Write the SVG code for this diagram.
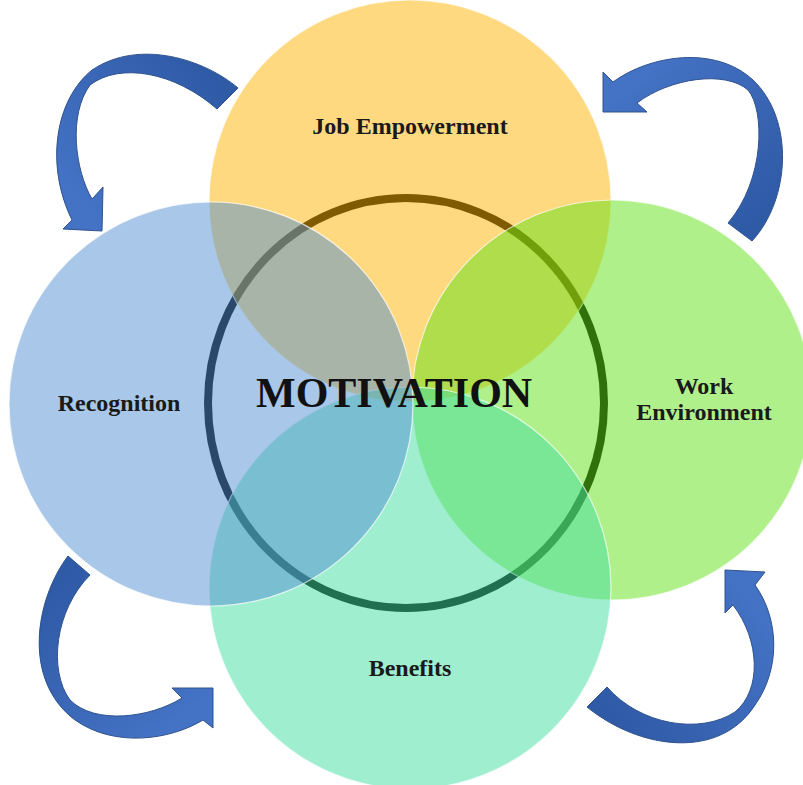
<svg xmlns="http://www.w3.org/2000/svg" width="803" height="785" viewBox="0 0 803 785">
<defs>
<style>
.c{fill-opacity:0.5;stroke:#ffffff;stroke-opacity:0.7;stroke-width:1.2}
.lbl{font-family:"Liberation Serif","Times New Roman",serif;font-weight:bold;font-size:24px;fill:#1a1a1a;text-anchor:middle}
.big{font-family:"Liberation Serif","Times New Roman",serif;font-weight:bold;font-size:42px;fill:#111111}
.arr{stroke:#2F528F;stroke-width:1;stroke-linejoin:miter}
</style>
<linearGradient id="g1" gradientUnits="userSpaceOnUse" x1="228" y1="99" x2="85" y2="210"><stop offset="0" stop-color="#2F5AA6"/><stop offset="1" stop-color="#4472C4"/></linearGradient>
<linearGradient id="g2" gradientUnits="userSpaceOnUse" x1="740" y1="232" x2="620" y2="95"><stop offset="0" stop-color="#2F5AA6"/><stop offset="1" stop-color="#4472C4"/></linearGradient>
<linearGradient id="g3" gradientUnits="userSpaceOnUse" x1="79" y1="565" x2="195" y2="705"><stop offset="0" stop-color="#2F5AA6"/><stop offset="1" stop-color="#4472C4"/></linearGradient>
<linearGradient id="g4" gradientUnits="userSpaceOnUse" x1="597" y1="697" x2="745" y2="590"><stop offset="0" stop-color="#2F5AA6"/><stop offset="1" stop-color="#4472C4"/></linearGradient>
</defs>
<rect width="803" height="785" fill="#ffffff"/>
<g id="motivation-ring">
<ellipse cx="406" cy="403" rx="198" ry="205" fill="none" stroke="#000000" stroke-width="8"/>
</g>
<g id="job-empowerment">
<circle class="c" cx="410" cy="201" r="201" fill="#FFB301"/>
<text class="lbl" x="410" y="134">Job Empowerment</text>
</g>
<g id="work-environment">
<circle class="c" cx="612" cy="400" r="200" fill="#61E115"/>
<text class="lbl" x="704" y="394">Work</text>
<text class="lbl" x="704" y="420">Environment</text>
</g>
<g id="benefits">
<circle class="c" cx="410" cy="588" r="201" fill="#41DDA1"/>
<text class="lbl" x="410" y="676">Benefits</text>
</g>
<g id="recognition">
<circle class="c" cx="211" cy="404" r="202" fill="#538FD1"/>
<text class="lbl" x="119" y="411">Recognition</text>
</g>
<g id="motivation">
<text class="big" x="256" y="407">MOTIVATION</text>
</g>
<g id="connectors">
<path class="arr" fill="url(#g1)" d="M238 88 C205 60 140 38 92 70 C55 100 45 165 72 220 L63 229 L102 231 L103 187 L92 199 C75 170 68 115 90 85 C120 62 175 72 217 109 Z"/>
<path class="arr" fill="url(#g2)" d="M752 241 C790 200 795 120 753 80 C715 45 650 55 613 82 L603 72 L603 112 L647 112 L637 103 C670 78 725 70 748 90 C765 110 765 180 728 223 Z"/>
<path class="arr" fill="url(#g3)" d="M68 556 C35 600 22 680 75 720 C115 748 170 740 203 720 L213 728 L213 688 L172 688 L182 698 C150 718 95 725 70 700 C48 670 55 610 90 575 Z"/>
<path class="arr" fill="url(#g4)" d="M587 707 C640 750 720 760 755 705 C780 670 780 620 755 585 L765 572 L725 570 L725 613 L733 605 C760 640 762 690 735 712 C700 735 640 725 607 687 Z"/>
</g>
</svg>
